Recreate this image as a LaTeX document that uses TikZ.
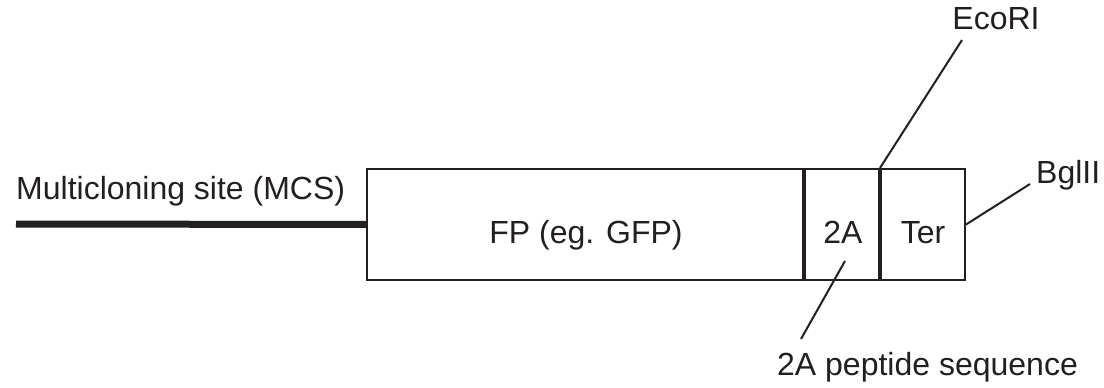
\documentclass[tikz,border=0pt]{standalone}
\usepackage{fontspec}
\setmainfont{Liberation Sans}
\definecolor{ink}{HTML}{231F20}
\begin{document}
\begin{tikzpicture}[x=1pt,y=-1pt,
  seg/.style={draw=ink,line width=2pt,inner sep=0pt,minimum height=111pt,anchor=north west},
  lbl/.style={inner sep=0pt,font=\fontsize{32}{38}\selectfont,text=ink},
  lead/.style={draw=ink,line width=2pt}]
\useasboundingbox (0,0) rectangle (1104,388);
\node[seg,minimum width=438pt] (fp) at (366,168) {};
\node[seg,minimum width=76pt] (twoa) at (804,168) {};
\node[seg,minimum width=84pt] (ter) at (880,168) {};
\node[lbl,anchor=base] at ([yshift=-19pt]fp.center) {FP (eg. GFP)};
\node[lbl,anchor=base] at ([yshift=-19pt]twoa.center) {2A};
\node[lbl,anchor=base] at ([yshift=-19pt]ter.center) {Ter};
\draw[ink,line width=3.5pt] (twoa.north west) -- (twoa.south west);
\draw[ink,line width=3.5pt] (ter.north west) -- (ter.south west);
\node[lbl,anchor=base west] (mcs) at (16,199) {Multicloning site (MCS)};
\coordinate (mcsend) at (16,224);
\draw[ink,line width=7pt] (mcsend) -- (fp.west);
\node[lbl,anchor=base] (eco) at (996,30) {EcoRI};
\coordinate (ecoend) at (962,40);
\draw[lead] (ter.north west) -- (ecoend);
\node[lbl,anchor=base west] (bgl) at (1036,183) {BglII};
\coordinate (bglend) at (1030,184);
\draw[lead] (ter.east) -- (bglend);
\node[lbl,anchor=base west] (pep) at (777,375) {2A peptide sequence};
\coordinate (pepa) at (845,261);
\coordinate (pepb) at (801,339);
\draw[lead] (pepa) -- (pepb);
\end{tikzpicture}
\end{document}
